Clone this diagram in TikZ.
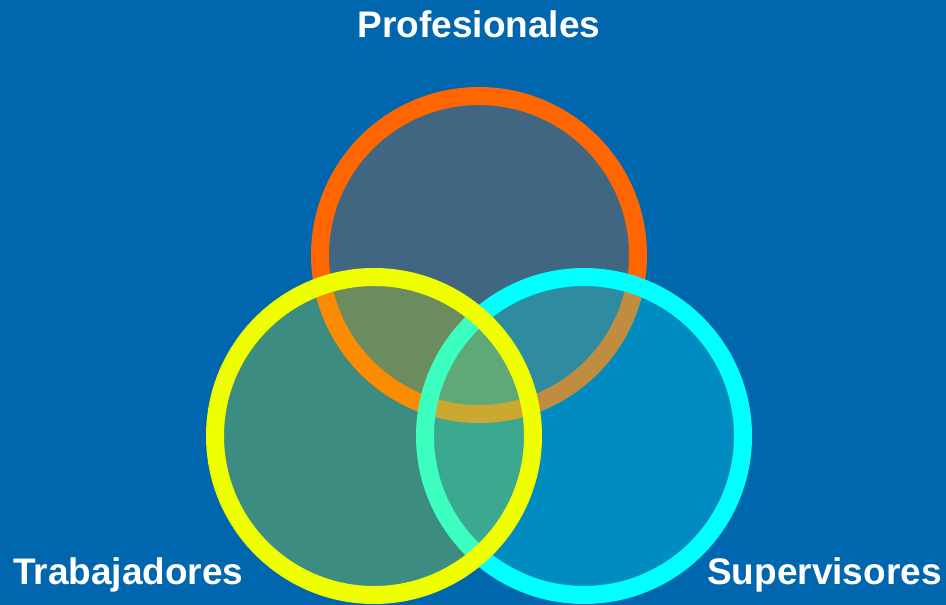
\documentclass[tikz,border=0pt]{standalone}
\usepackage{fontspec}
\setmainfont{Liberation Sans}
\definecolor{bgblue}{RGB}{0,102,173}
\definecolor{ringorange}{RGB}{255,102,0}
\definecolor{ringyellow}{RGB}{240,255,0}
\definecolor{ringcyan}{RGB}{0,255,255}
\tikzset{
  ring/.style={circle, inner sep=0pt, minimum size=318pt, line width=18pt, fill opacity=0.25},
  label/.style={text=white, font=\fontsize{37}{44}\selectfont\bfseries, inner sep=0pt}
}
\begin{document}
\begin{tikzpicture}[x=1pt,y=-1pt]
\fill[bgblue] (0,0) rectangle (946,605);
\useasboundingbox (0,0) rectangle (946,605);
\node[ring, draw=ringorange, fill=ringorange] (prof) at (479,255) {};
\node[ring, draw=ringcyan, fill=ringcyan] (sup) at (584,436) {};
\node[ring, draw=ringyellow, fill=ringyellow] (trab) at (374,436) {};
\node[label, anchor=base] (tprof) at (479,37) {Profesionales};
\node[label, anchor=base west] (ttrab) at (13,584) {Trabajadores};
\node[label, anchor=base west] (tsup) at (707,584) {Supervisores};
\end{tikzpicture}
\end{document}
